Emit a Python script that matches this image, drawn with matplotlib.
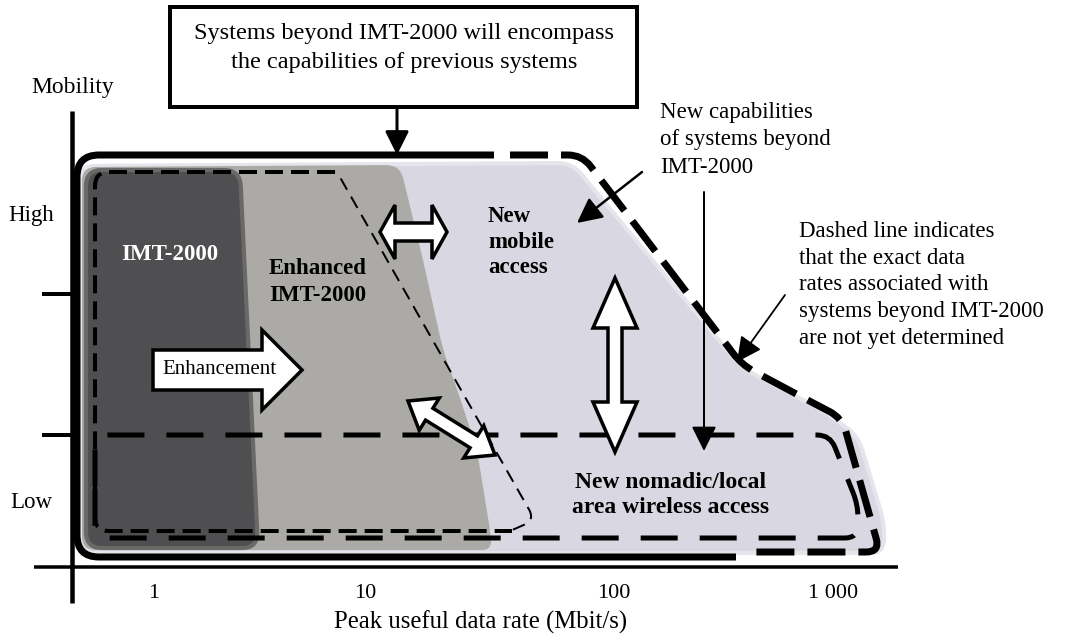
import numpy as np
import matplotlib.pyplot as plt
from matplotlib.path import Path
from matplotlib.patches import PathPatch, Polygon, Rectangle

plt.rcParams['font.family'] = ['Liberation Serif', 'DejaVu Serif']

W, H = 1071, 638
PX = 0.72  # points per pixel at dpi 100

# region outlines in diagram pixels (y grows downwards)
light_area = [(80, 166), (572, 163), (742, 368), (822, 410), (858, 436), (884, 522), (884, 553), (80, 553)]
enhanced_area = [(82, 167), (400, 165), (423, 260), (443, 350), (458, 392), (477, 450), (490, 530), (492, 550), (82, 550)]
imt_area = [(86, 170), (240, 170), (258, 548), (86, 548)]

outer_solid = [(494, 155), (77, 155), (77, 557), (736, 557)]
outer_dashed = [(510, 155), (582, 155), (742, 365), (815, 404), (842, 418), (880, 552), (752, 552)]
enh_outline = [(335, 172), (95, 172), (95, 531), (512, 531)]
enh_diag = [(322, 172), (337, 172), (535, 520), (510, 531)]
nomadic = [(95, 435), (830, 435), (858, 505), (858, 538), (95, 538)]

# block arrows: tail/tip, head length, head half width, body half width
double_arrows = [((380, 232), (447, 232), 15, 27, 9),
                 ((615, 278), (615, 452), 50, 22, 7),
                 ((408, 401), (495, 455), 25, 19, 7)]
enh_arrow = ((153, 370), (302, 370), 40, 40, 20)

# thin arrows: start, end, line px, head scale
thin_arrows = [((397, 107), (397, 155), 3, 36),
               ((704, 192), (704, 451), 2, 38),
               ((642, 172), (577, 223), 2.5, 38),
               ((785, 295), (737, 362), 1.8, 38)]

x_ticks = [154, 365, 614, 833]
x_tick_labels = ['1', '10', '100', '1 000']
y_ticks = [294, 435]


def rounded(points, r, closed=False):
    p = np.array(points, float)
    n = len(p)
    verts, codes = [], []

    def corner(i):
        a, b, c = p[i - 1], p[i], p[(i + 1) % n]
        u1 = (b - a) / np.hypot(*(b - a))
        u2 = (c - b) / np.hypot(*(c - b))
        rr = min(r, 0.5 * np.hypot(*(b - a)), 0.5 * np.hypot(*(c - b)))
        verts.extend([b - u1 * rr, b, b + u2 * rr])
        codes.extend([Path.LINETO, Path.CURVE3, Path.CURVE3])

    if closed:
        start = (p[-1] + p[0]) / 2
        verts.append(start); codes.append(Path.MOVETO)
        for i in range(n):
            corner(i)
        verts.append(start); codes.append(Path.CLOSEPOLY)
    else:
        verts.append(p[0]); codes.append(Path.MOVETO)
        for i in range(1, n - 1):
            corner(i)
        verts.append(p[-1]); codes.append(Path.LINETO)
    return Path(verts, codes)


def block_arrow(p0, p1, hl, hw, bw, double=True):
    p0, p1 = np.array(p0, float), np.array(p1, float)
    d = p1 - p0
    L = np.hypot(*d)
    u = d / L
    nrm = np.array([-u[1], u[0]])
    if double:
        loc = [(0, 0), (hl, hw), (hl, bw), (L - hl, bw), (L - hl, hw), (L, 0),
               (L - hl, -hw), (L - hl, -bw), (hl, -bw), (hl, -hw)]
    else:
        loc = [(0, bw), (L - hl, bw), (L - hl, hw), (L, 0), (L - hl, -hw), (L - hl, -bw), (0, -bw)]
    return [p0 + s * u + t * nrm for s, t in loc]


def dash(on, off, lw):
    return (0, (on / lw, off / lw))


fig = plt.figure(figsize=(W / 100, H / 100), dpi=100)
ax = fig.add_axes([0, 0, 1, 1])
ax.set_xlim(0, W)
ax.set_ylim(H, 0)
ax.axis('off')

# filled regions
ax.add_patch(PathPatch(rounded(light_area, 14, True), fc='#d9d8e2', ec='#e6e5ec', lw=3, zorder=1))
ax.add_patch(PathPatch(rounded(enhanced_area, 14, True), fc='#abaaa6', ec='none', zorder=1.2))
ax.add_patch(PathPatch(rounded(imt_area, 16, True), fc='#4f4e50', ec='#6a6968', lw=3, zorder=1.4))

# boundaries
ax.add_patch(PathPatch(rounded(outer_solid, 22), fc='none', ec='black', lw=7 * PX, capstyle='butt', zorder=3))
ax.add_patch(PathPatch(rounded(outer_dashed, 14), fc='none', ec='black', lw=7 * PX,
                       ls=dash(38, 13, 7), capstyle='butt', zorder=3))
ax.add_patch(PathPatch(rounded(enh_outline, 14), fc='none', ec='black', lw=4 * PX,
                       ls=dash(18, 8, 4), capstyle='butt', zorder=3))
ax.add_patch(PathPatch(rounded(enh_diag, 12), fc='none', ec='black', lw=2 * PX,
                       ls=dash(13, 8, 2), capstyle='butt', zorder=3))
ax.add_patch(PathPatch(rounded(nomadic, 13, True), fc='none', ec='black', lw=5 * PX,
                       ls=dash(37, 22, 5), capstyle='butt', zorder=3))

# axes of the diagram
ax.plot([72, 72], [111, 603], color='black', lw=4.5 * PX, solid_capstyle='butt', zorder=4)
ax.plot([34, 898], [567, 567], color='black', lw=3.5 * PX, solid_capstyle='butt', zorder=4)
for yt in y_ticks:
    ax.plot([42, 72], [yt, yt], color='black', lw=4 * PX, solid_capstyle='butt', zorder=4)
for xt, lab in zip(x_ticks, x_tick_labels):
    ax.text(xt, 593, lab, ha='center', va='center', fontsize=16)
ax.text(481, 622, 'Peak useful data rate (Mbit/s)', ha='center', va='center', fontsize=17.8)
ax.text(73, 88, 'Mobility', ha='center', va='center', fontsize=17)
ax.text(31, 216, 'High', ha='center', va='center', fontsize=16.5)
ax.text(31, 503, 'Low', ha='center', va='center', fontsize=16.5)

# block arrows
for p0, p1, hl, hw, bw in double_arrows:
    ax.add_patch(Polygon(block_arrow(p0, p1, hl, hw, bw), closed=True, fc='white', ec='black',
                         lw=3.5 * PX, joinstyle='miter', zorder=5))
p0, p1, hl, hw, bw = enh_arrow
ax.add_patch(Polygon(block_arrow(p0, p1, hl, hw, bw, double=False), closed=True, fc='white',
                     ec='black', lw=3.5 * PX, joinstyle='miter', zorder=5))
ax.text(219, 370, 'Enhancement', ha='center', va='center', fontsize=15, zorder=6)

# thin arrows
for s, e, lw, ms in thin_arrows:
    ax.annotate('', xy=e, xytext=s,
                arrowprops=dict(arrowstyle='-|>,head_length=0.4,head_width=0.2', color='black',
                                lw=lw * PX, mutation_scale=ms, shrinkA=0, shrinkB=0), zorder=6)

# top box
ax.add_patch(Rectangle((170, 7), 467, 100, fc='white', ec='black', lw=4 * PX, zorder=5))
ax.text(404, 48, 'Systems beyond IMT-2000 will encompass\nthe capabilities of previous systems',
        ha='center', va='center', fontsize=17.5, linespacing=1.47, zorder=6)

# region labels
ax.text(170, 255, 'IMT-2000', ha='center', va='center', fontsize=16.5, fontweight='bold',
        color='white', zorder=6)
ax.text(318, 282, 'Enhanced\nIMT-2000', ha='center', va='center', fontsize=16.5,
        fontweight='bold', linespacing=1.35, zorder=6)
ax.text(488, 242, 'New\nmobile\naccess', ha='left', va='center', fontsize=16.5,
        fontweight='bold', linespacing=1.3, zorder=6)
ax.text(671, 495, 'New nomadic/local\narea wireless access', ha='center', va='center',
        fontsize=17, fontweight='bold', linespacing=1.28, zorder=6)

# annotations
ax.text(660, 140, 'New capabilities\nof systems beyond\nIMT-2000', ha='left', va='center',
        fontsize=16.5, linespacing=1.38, zorder=6)
ax.text(799, 285, 'Dashed line indicates\nthat the exact data\nrates associated with\n'
        'systems beyond IMT-2000\nare not yet determined', ha='left', va='center',
        fontsize=16.5, linespacing=1.37, zorder=6)

fig.savefig('out.png', dpi=100)
